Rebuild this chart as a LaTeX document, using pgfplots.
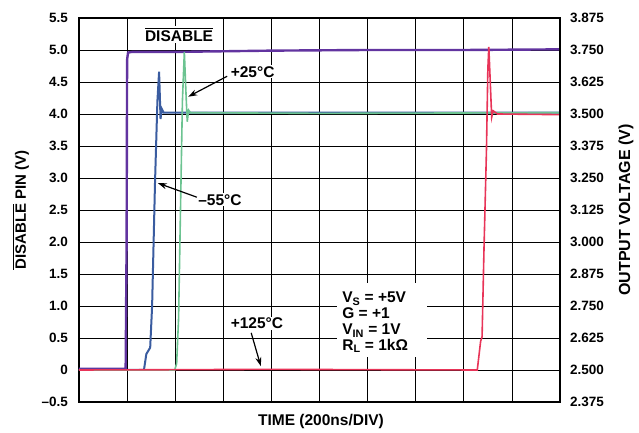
\documentclass[border=0pt]{standalone}
\usepackage{pgfplots}
\pgfplotsset{compat=1.18}
\usepackage{fontspec}
\setmainfont{Liberation Sans}
\usetikzlibrary{arrows.meta}
\definecolor{cpurple}{RGB}{98,52,160}
\definecolor{cblue}{RGB}{58,92,160}
\definecolor{cgreen}{RGB}{108,195,145}
\definecolor{cred}{RGB}{232,52,88}
\newcommand\ovl[1]{\leavevmode\vbox{\hrule height 1.1pt\kern1.6pt\hbox{#1}}}
\newcommand\fs[1]{\fontsize{#1}{#1}\selectfont\bfseries}
\begin{document}
\begin{tikzpicture}
\begin{axis}[name=main,
  scale only axis, width=481pt, height=384pt,
  xmin=0, xmax=10, ymin=-0.5, ymax=5.5,
  xtick={0,1,...,10}, xticklabels={},
  ytick={-0.5,0,0.5,1,1.5,2,2.5,3,3.5,4,4.5,5,5.5},
  yticklabels={--0.5,0,0.5,1.0,1.5,2.0,2.5,3.0,3.5,4.0,4.5,5.0,5.5},
  major tick length=0pt,
  grid=major, major grid style={black, line width=0.75pt},
  axis line style={black, line width=1.2pt},
  yticklabel style={font=\fs{13.5}, inner sep=0pt, xshift=-11pt},
  ylabel={\ovl{DISABLE} PIN (V)},
  ylabel style={at={(axis description cs:-0.121,0.5)}, anchor=center, font=\fs{15}},
  xlabel={TIME (200ns/DIV)},
  xlabel style={at={(axis description cs:0.503,-0.052)}, anchor=center, font=\fs{15.5}},
  clip=false,
]
\addplot[cpurple, line width=2.4pt] coordinates {(0,0.02) (0.97,0.02) (0.99,2.0) (1.0,4.85) (1.02,4.96) (1.1,4.97) (2,4.97) (4,4.99) (6,5.0) (8,5.0) (10,5.01)};
\addplot[cblue, line width=2pt] coordinates {(0,0.0) (1.35,0.0) (1.40,0.25) (1.44,0.3) (1.48,0.35) (1.52,1.0) (1.58,2.92) (1.63,4.2) (1.665,4.66) (1.68,4.3) (1.695,3.92) (1.72,4.08) (1.76,4.02) (3,4.02) (6,4.02) (10,4.02)};
\addplot[cgreen, line width=1.6pt] coordinates {(0,0.0) (1.99,0.0) (2.03,0.1) (2.07,0.8) (2.11,2.5) (2.15,4.2) (2.19,4.97) (2.22,4.4) (2.25,3.88) (2.28,4.06) (2.32,4.02) (5,4.01) (10,4.02)};
\addplot[cred, line width=1.6pt] coordinates {(0,0.0) (4,0.01) (8.28,0.0) (8.35,0.45) (8.38,0.52) (8.42,1.9) (8.47,3.4) (8.50,4.7) (8.52,5.05) (8.55,4.5) (8.58,3.95) (8.61,4.05) (8.7,4.0) (10,3.99)};
% annotations
\node[fill=white, inner sep=1.5pt, font=\fs{15.5}] at (axis cs:2.08,5.24) {\ovl{DISABLE}};
\node[fill=white, inner sep=1pt, font=\fs{15.5}] at (axis cs:3.61,4.66) {+25°C};
\draw[line width=1.2pt, -{Stealth[length=9pt,width=6pt]}] (axis cs:3.08,4.59) -- (axis cs:2.27,4.27);
\node[fill=white, inner sep=1pt, font=\fs{15.5}] at (axis cs:2.93,2.66) {–55°C};
\draw[line width=1.2pt, -{Stealth[length=9pt,width=6pt]}] (axis cs:2.45,2.70) -- (axis cs:1.64,2.92);
\node[fill=white, inner sep=1pt, font=\fs{15.5}] at (axis cs:3.70,0.73) {+125°C};
\draw[line width=1.2pt, -{Stealth[length=9pt,width=6pt]}] (axis cs:3.58,0.58) -- (axis cs:3.78,0.06);
\fill[white] (axis cs:5.36,0.20) rectangle (axis cs:7.24,1.36);
\node[anchor=base west, inner sep=0pt, font=\fs{15.5}] at (axis cs:5.47,1.047) {V\textsubscript{S} = +5V};
\node[anchor=base west, inner sep=0pt, font=\fs{15.5}] at (axis cs:5.47,0.80) {G = +1};
\node[anchor=base west, inner sep=0pt, font=\fs{15.5}] at (axis cs:5.47,0.547) {V\textsubscript{IN} = 1V};
\node[anchor=base west, inner sep=0pt, font=\fs{15.5}] at (axis cs:5.47,0.31) {R\textsubscript{L} = 1kΩ};
\end{axis}
\begin{axis}[
  scale only axis, width=481pt, height=384pt,
  xmin=0, xmax=10, ymin=2.375, ymax=3.875,
  axis x line=none, axis y line*=right,
  ytick={2.375,2.5,2.625,2.75,2.875,3.0,3.125,3.25,3.375,3.5,3.625,3.75,3.875},
  yticklabels={2.375,2.500,2.625,2.750,2.875,3.000,3.125,3.250,3.375,3.500,3.625,3.750,3.875},
  major tick length=0pt,
  axis line style={black, line width=1.2pt},
  yticklabel style={font=\fs{13.5}, inner sep=0pt, xshift=10pt},
  ylabel={OUTPUT VOLTAGE (V)},
  ylabel style={at={(axis description cs:1.137,0.5)}, anchor=center, rotate=0, font=\fs{16}},
]
\addplot[draw=none] coordinates {(0,2.5)};
\end{axis}
\pgfresetboundingbox
\useasboundingbox (main.south west) ++(-79pt,-31pt) rectangle ++(639pt,433pt);
\end{tikzpicture}
\end{document}
